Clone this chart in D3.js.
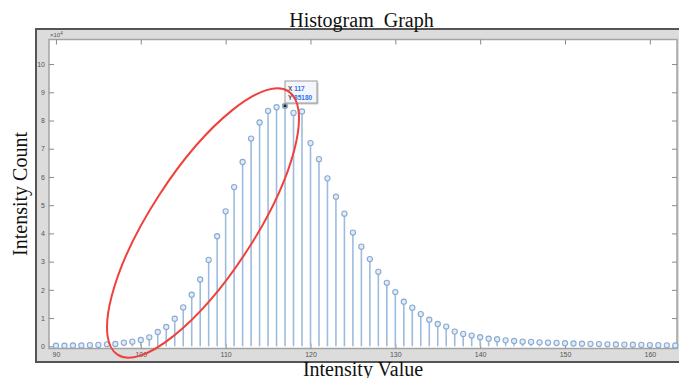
<!DOCTYPE html>
<html><head><meta charset="utf-8">
<script src="https://cdn.jsdelivr.net/npm/d3@7"></script>
<style>html,body{margin:0;padding:0;background:#fff;overflow:hidden}</style>
</head><body><svg id="c" width="679" height="378"></svg>
<script>
const intensity = d3.range(90, 164);
const counts = [
  200, 200, 300, 300, 400, 500, 700, 820, 1300, 1650,
  2240, 3180, 5060, 6830, 9780, 13780, 18260, 23670, 30620, 38990,
  47820, 56400, 65300, 73600, 79300, 83400, 84700, 85180, 82700, 83200,
  72000, 66300, 59500, 53000, 47000, 40300, 35300, 30900, 26400, 22500,
  19200, 15800, 13700, 11400, 9400, 7900, 7000, 5200, 4400, 3800,
  3200, 2700, 2500, 2100, 1900, 1650, 1550, 1400, 1300, 1200,
  1100, 1000, 900, 850, 800, 700, 650, 600, 550, 500,
  450, 400, 350, 300
];
const xTicks = [90, 100, 110, 120, 130, 140, 150, 160];
const yTicks = [0, 1, 2, 3, 4, 5, 6, 7, 8, 9, 10];
const tipX = 117, tipY = 85180;

const svg = d3.select("#c");
const L = 49, R = 677, T = 39.5, B = 348.5;
const x = d3.scaleLinear().domain([89.18, 163.2]).range([L, R]);
const y = d3.scaleLinear().domain([-780, 108700]).range([B, T]);

// outer frame band
svg.append("rect").attr("x", 36).attr("y", 29).attr("width", 700).attr("height", 333)
  .attr("fill", "#dcdcdc").attr("stroke", "#555").attr("stroke-width", 2);
svg.append("rect").attr("x", L).attr("y", T).attr("width", R - L).attr("height", B - T)
  .attr("fill", "#fff").attr("stroke", "#a3a3a3").attr("stroke-width", 1.5);

const tickCol = "#8a8a8a";
const gx = svg.append("g").attr("transform", `translate(0,${B})`)
  .call(d3.axisBottom(x).tickValues(xTicks).tickSize(-5).tickPadding(5).tickFormat(d => d));
const gxt = svg.append("g").attr("transform", `translate(0,${T})`)
  .call(d3.axisTop(x).tickValues(xTicks).tickSize(-5).tickFormat(""));
const gy = svg.append("g").attr("transform", `translate(${L},0)`)
  .call(d3.axisLeft(y).tickValues(yTicks.map(v => v * 10000)).tickSize(-5).tickPadding(4).tickFormat(d => d / 10000));
const gyr = svg.append("g").attr("transform", `translate(${R},0)`)
  .call(d3.axisRight(y).tickValues(yTicks.map(v => v * 10000)).tickSize(-5).tickFormat(""));
[gx, gxt, gy, gyr].forEach(g => {
  g.select(".domain").remove();
  g.selectAll(".tick line").attr("stroke", tickCol).attr("stroke-width", 1);
  g.selectAll("text").attr("fill", "#555").attr("font-family", "Arial, 'Liberation Sans', sans-serif").attr("font-size", 7);
});
gx.selectAll("text").attr("dy", "0.5em");

// exponent label
const ex = svg.append("text").attr("x", 50).attr("y", 37).attr("font-family", "Arial, 'Liberation Sans', sans-serif")
  .attr("font-size", 6).attr("fill", "#555");
ex.append("tspan").text("×10");
ex.append("tspan").attr("dy", -2.5).attr("font-size", 4.5).text("4");

// stems
const plot = svg.append("g");
plot.selectAll("line.stem").data(intensity).enter().append("line")
  .attr("x1", d => x(d)).attr("x2", d => x(d))
  .attr("y1", y(0)).attr("y2", (d, i) => y(counts[i]))
  .attr("stroke", "#9dbcdd").attr("stroke-width", 1.6);
plot.selectAll("circle").data(intensity).enter().append("circle")
  .attr("cx", d => x(d)).attr("cy", (d, i) => y(counts[i])).attr("r", 2.6)
  .attr("fill", "#e3ecf6").attr("stroke", "#87aad2").attr("stroke-width", 1.1);

// datatip
const tx = x(tipX), ty = y(tipY);
svg.append("rect").attr("x", tx - 1.5).attr("y", ty - 1.5).attr("width", 3).attr("height", 3).attr("fill", "#222");
const bx = 285, by = 81;
svg.append("rect").attr("x", bx + 1.5).attr("y", by + 1.5).attr("width", 32).attr("height", 22).attr("fill", "#c8c8c8").attr("rx", 1);
svg.append("rect").attr("x", bx).attr("y", by).attr("width", 32).attr("height", 22)
  .attr("fill", "#f3f6fc").attr("stroke", "#9a9a9a").attr("stroke-width", 1);
const tipFont = "Arial, 'Liberation Sans', sans-serif";
[["X", tipX, 91], ["Y", tipY, 99.5]].forEach(([k, v, yy]) => {
  const t = svg.append("text").attr("x", bx + 3).attr("y", yy).attr("font-family", tipFont)
    .attr("font-size", 6.5).attr("font-weight", "bold");
  t.append("tspan").attr("fill", "#555").text(k + " ");
  t.append("tspan").attr("fill", "#2f74e8").text(v);
});

// red ellipse annotation
svg.append("ellipse").attr("cx", 203).attr("cy", 223).attr("rx", 157).attr("ry", 52)
  .attr("transform", "rotate(-57 203 223)")
  .attr("fill", "none").attr("stroke", "#f0403c").attr("stroke-width", 2);

// titles
const serif = "'Liberation Serif', 'Times New Roman', serif";
svg.append("text").attr("x", 361.5).attr("y", 26.5).attr("text-anchor", "middle")
  .attr("font-family", serif).attr("font-size", 20).attr("fill", "#111")
  .style("white-space", "pre").text("Histogram  Graph");
svg.append("text").attr("x", 363).attr("y", 376).attr("text-anchor", "middle")
  .attr("font-family", serif).attr("font-size", 20).attr("fill", "#111").text("Intensity Value");
svg.append("text").attr("transform", "translate(27,194) rotate(-90)").attr("text-anchor", "middle")
  .attr("font-family", serif).attr("font-size", 20).attr("fill", "#111").text("Intensity Count");
</script></body></html>
